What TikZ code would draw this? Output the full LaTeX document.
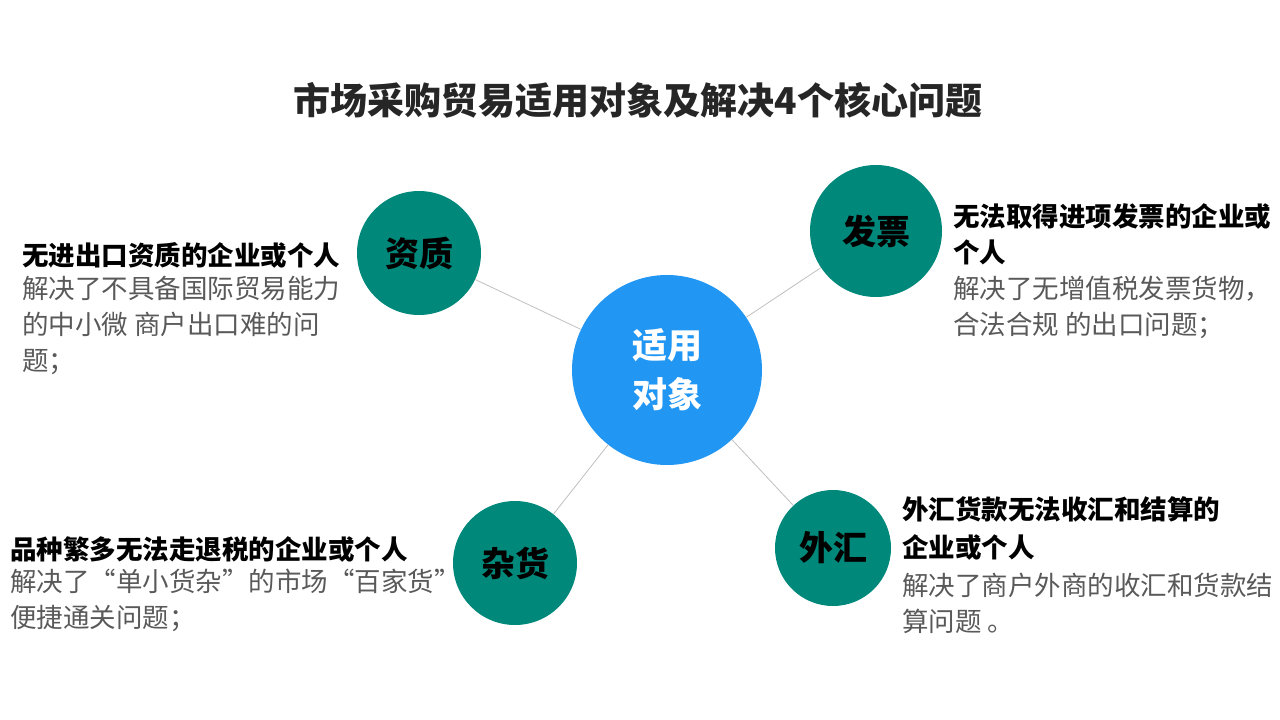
\documentclass[tikz,border=0pt]{standalone}
\usepackage{fontspec}
\setmainfont{Noto Sans CJK SC}
\definecolor{teal1}{HTML}{00897B}
\definecolor{blue1}{HTML}{2196F3}
\definecolor{gr}{HTML}{595959}
\begin{document}
\begin{tikzpicture}[x=1pt,y=-1pt,
 small/.style={circle,fill=teal1,minimum size=#1,inner sep=0pt,font=\fontsize{34}{36}\selectfont\bfseries},
 head/.style={anchor=west,font=\fontsize{26.5}{30}\selectfont\bfseries,align=left,inner sep=0pt},
 body/.style={anchor=north west,font=\fontsize{26.5}{36}\selectfont,text=gr,align=left,inner sep=0pt},
 link/.style={draw=black!25,line width=0.8pt}]
\useasboundingbox (0,0) rectangle (1280,720);
\node[font=\fontsize{37}{40}\selectfont\bfseries,text=black!85] (t) at (638,100) {市场采购贸易适用对象及解决4个核心问题};
\node[small=124pt] (a) at (419,253) {资质};
\node[small=132pt] (b) at (876,231) {发票};
\node[small=124pt] (c) at (515,563) {杂货};
\node[small=116pt] (d) at (833,548) {外汇};
\node[circle,fill=blue1,minimum size=190pt,inner sep=0pt,text=white,align=center,font=\fontsize{35}{49}\selectfont\bfseries] (m) at (667,370) {适用\\对象};
\draw[link] (m) -- (a); \draw[link] (m) -- (b); \draw[link] (m) -- (c); \draw[link] (m) -- (d);
\node[head] (h1) at (22,255) {无进出口资质的企业或个人};
\node[body] (b1) at (22,276) {解决了不具备国际贸易能力\\的中小微 商户出口难的问\\题；};
\node[head,font=\fontsize{26.5}{36}\selectfont\bfseries] (h2) at (953,234) {无法取得进项发票的企业或\\个人};
\node[body] (b2) at (953,276) {解决了无增值税发票货物，\\合法合规 的出口问题；};
\node[head] (h3) at (10,549) {品种繁多无法走退税的企业或个人};
\node[body] (b3) at (10,569) {解决了“单小货杂”的市场“百家货”\\便捷通关问题；};
\node[head,font=\fontsize{26.5}{38}\selectfont\bfseries] (h4) at (902,528) {外汇货款无法收汇和结算的\\企业或个人};
\node[body] (b4) at (902,573) {解决了商户外商的收汇和货款结\\算问题 。};
\end{tikzpicture}
\end{document}
